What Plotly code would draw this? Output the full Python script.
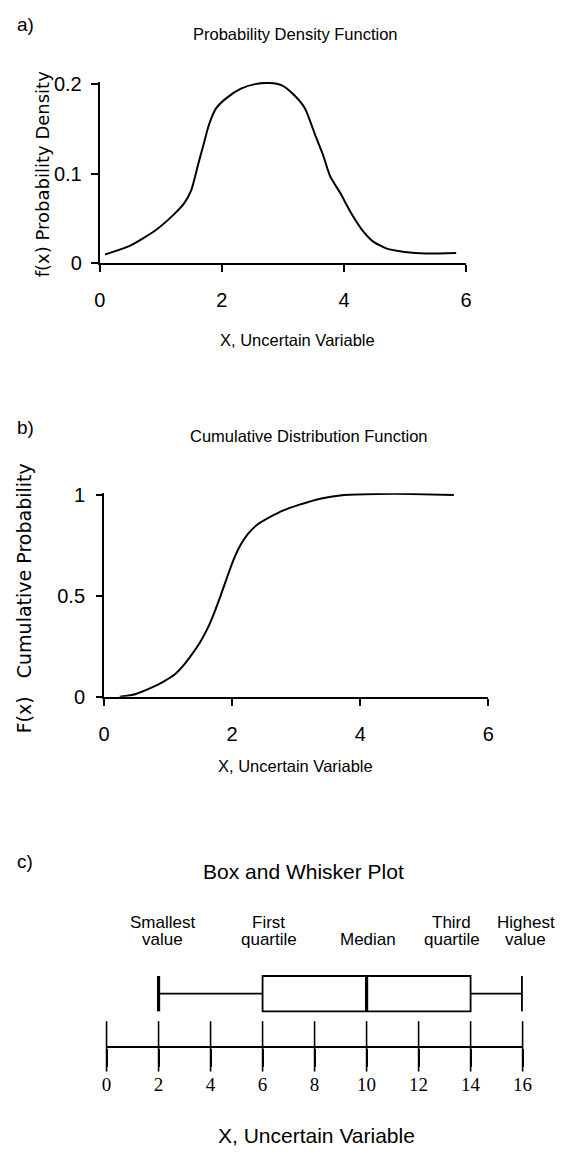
import plotly.graph_objects as go

# ---------------- data ----------------
pdf_x = [0.087, 0.507, 0.914, 1.206, 1.38, 1.497, 1.613, 1.70, 1.788, 1.904, 2.079, 2.312, 2.545, 2.778, 2.982,
         3.186, 3.36, 3.535, 3.652, 3.768, 3.943, 4.118, 4.292, 4.467, 4.70, 4.99, 5.34, 5.836]
pdf_y = [0.0099, 0.0201, 0.0369, 0.054, 0.0668, 0.0814, 0.1106, 0.1325, 0.1544, 0.1726, 0.1843, 0.1945, 0.1996,
         0.2008, 0.1982, 0.1872, 0.1726, 0.1416, 0.1215, 0.0978, 0.0777, 0.0558, 0.0376, 0.0248, 0.0164, 0.0128,
         0.011, 0.0117]

cdf_x = [0.244, 0.497, 0.75, 0.93, 1.107, 1.24, 1.36, 1.49, 1.615, 1.72, 1.819, 1.92, 2.021, 2.13, 2.25, 2.4,
         2.58, 2.8, 3.04, 3.39, 3.75, 4.26, 4.8, 5.46]
cdf_y = [0.0, 0.014, 0.046, 0.075, 0.111, 0.155, 0.205, 0.265, 0.337, 0.415, 0.499, 0.59, 0.677, 0.75, 0.807,
         0.853, 0.887, 0.922, 0.949, 0.981, 0.998, 1.003, 1.003, 0.998]

pdf_yticks = [0, 0.1, 0.2]
pdf_ytext = ["0", "0.1", "0.2"]
pdf_xticks = [0, 2, 4, 6]
cdf_yticks = [0, 0.5, 1]
cdf_ytext = ["0", "0.5", "1"]
cdf_xticks = [0, 2, 4, 6]

box_min, box_q1, box_median, box_q3, box_max = 2, 6, 10, 14, 16
box_ticks = [0, 2, 4, 6, 8, 10, 12, 14, 16]
label_line1 = ["Smallest", "First", "", "Third", "Highest"]
label_line2 = ["value", "quartile", "Median", "quartile", "value"]
label_values = [box_min, box_q1, box_median, box_q3, box_max]

# ---------------- layout helpers ----------------
# the page body keeps its default 8px margin, so the figure is sized to fill the window exactly
OFF = 8
W, H = 571 - 2 * OFF, 1156 - 2 * OFF
def px_x(p):
    return (p - OFF) / W
def px_y(p):
    return 1 - (p - OFF) / H

SANS = "Liberation Sans, Arial, sans-serif"
WIDE = "DejaVu Sans, Verdana, sans-serif"
SERIF = "Liberation Serif, Times New Roman, serif"

fig = go.Figure()

# panel a
fig.add_trace(go.Scatter(x=pdf_x, y=pdf_y, mode="lines",
                         line=dict(color="black", width=2, shape="spline", smoothing=0.6),
                         xaxis="x", yaxis="y", showlegend=False, hoverinfo="skip"))
# panel b
fig.add_trace(go.Scatter(x=cdf_x, y=cdf_y, mode="lines",
                         line=dict(color="black", width=2, shape="spline", smoothing=0.6),
                         xaxis="x2", yaxis="y2", showlegend=False, hoverinfo="skip"))

# panel c geometry (in y3 units)
c_bottom, c_top = 1055.7, 960.0
c_center = (c_bottom - 1002.0) / (c_bottom - c_top)
c_half = 18.0 / (c_bottom - c_top)
tick_len = 18

fig.add_trace(go.Box(q1=[box_q1], median=[box_median], q3=[box_q3], lowerfence=[box_min], upperfence=[box_max],
                     y=[c_center], orientation="h", width=2 * c_half, whiskerwidth=1,
                     line=dict(color="black", width=1.8), fillcolor="white", boxpoints=False,
                     xaxis="x3", yaxis="y3", showlegend=False, hoverinfo="skip"))
# thicker median and whisker caps
for v in [box_min, box_median, box_max]:
    fig.add_trace(go.Scatter(x=[v, v], y=[c_center - c_half, c_center + c_half], mode="lines",
                             line=dict(color="black", width=3.2), xaxis="x3", yaxis="y3",
                             showlegend=False, hoverinfo="skip"))
# number-line ticks crossing the axis line (both sides)
fig.add_trace(go.Scatter(x=box_ticks, y=[0] * len(box_ticks), mode="markers", cliponaxis=False,
                         marker=dict(symbol="line-ns", size=2 * tick_len, color="black",
                                     line=dict(width=1.6, color="black")),
                         xaxis="x3", yaxis="y3", showlegend=False, hoverinfo="skip"))

axis_common = dict(showgrid=False, zeroline=False, showline=True, linecolor="black", linewidth=2,
                   ticks="outside", tickcolor="black", tickwidth=2, fixedrange=True)
TICKFONT = dict(family=SANS, size=20, color="black")

# panel a axes
xa0, xa6 = 96.3, 473.6
ya0, ya_unit = 258.0, 915.0
ya_top = 0.202
fig.update_layout(
    xaxis=dict(**axis_common, domain=[px_x(xa0), px_x(xa6)], range=[0, 6], tickvals=pdf_xticks,
               ticklen=7, tickfont=TICKFONT, anchor="y", ticklabelstandoff=11),
    yaxis=dict(**axis_common, domain=[px_y(ya0), px_y(ya0 - ya_top * ya_unit)], range=[0, ya_top],
               tickvals=pdf_yticks, ticktext=pdf_ytext, ticklen=7, tickfont=TICKFONT, anchor="x",
               ticklabelstandoff=5),
)

# panel b axes
xb0, xb6 = 100.7, 496.5
yb0, yb_unit = 699.5, 206.0
yb_top = 1.006
fig.update_layout(
    xaxis2=dict(**axis_common, domain=[px_x(xb0), px_x(xb6)], range=[0, 6], tickvals=cdf_xticks,
                ticklen=7, tickfont=TICKFONT, anchor="y2", ticklabelstandoff=11),
    yaxis2=dict(**axis_common, domain=[px_y(yb0), px_y(yb0 - yb_top * yb_unit)], range=[0, yb_top],
                tickvals=cdf_yticks, ticktext=cdf_ytext, ticklen=6, tickfont=TICKFONT, anchor="x2",
                ticklabelstandoff=7),
)

# panel c axes
xc0, xc16 = 103.3, 531.7
fig.update_layout(
    xaxis3=dict(showgrid=False, zeroline=False, showline=True, linecolor="black", linewidth=2.2,
                ticks="outside", tickcolor="black", tickwidth=1.6, ticklen=tick_len,
                domain=[px_x(xc0), px_x(xc16)], range=[0, 16], tickvals=box_ticks,
                tickfont=dict(family=SERIF, size=19, color="black"), anchor="y3",
                ticklabelstandoff=2, fixedrange=True),
    yaxis3=dict(domain=[px_y(c_bottom), px_y(c_top)], range=[0, 1], visible=False, fixedrange=True,
                anchor="x3"),
)

ann = []
def text(x_px, y_px, s, family, size, xanchor="center", angle=0):
    ann.append(dict(x=px_x(x_px), y=px_y(y_px), xref="paper", yref="paper", text=s, showarrow=False,
                    xanchor=xanchor, yanchor="middle", textangle=angle,
                    font=dict(family=family, size=size, color="black")))

# panel labels
text(9, 15, "a)", SANS, 19, xanchor="left")
text(9, 425, "b)", SANS, 19, xanchor="left")
text(9, 867, "c)", SANS, 19, xanchor="left")

# titles
text(298, 24, "Probability Density Function", SANS, 16.5)
text(312, 434, "Cumulative Distribution Function", SANS, 16.5)
text(306, 878, "Box and Whisker Plot", SANS, 21)

# axis titles
text(300, 336, "X, Uncertain Variable", SANS, 16.5)
text(298, 770, "X, Uncertain Variable", SANS, 16.5)
text(319, 1146, "X, Uncertain Variable", SANS, 21)
text(37, 167, "f(x) Probability Density", WIDE, 18, angle=-90)
text(18.5, 599, "F(x)\u00a0\u00a0\u00a0Cumulative Probability", WIDE, 19, angle=-90)

fig.update_layout(annotations=ann)

# box plot labels (positioned at their values on the x3 axis)
label_shift = [4, 6, 1, -19, 3]
for v, l1, l2, dx in zip(label_values, label_line1, label_line2, label_shift):
    if l1:
        fig.add_annotation(x=v, y=px_y(929), xref="x3", yref="paper", text=l1, showarrow=False,
                           xshift=dx, yanchor="middle", font=dict(family=SANS, size=17, color="black"))
    fig.add_annotation(x=v, y=px_y(947), xref="x3", yref="paper", text=l2, showarrow=False,
                       xshift=dx, yanchor="middle", font=dict(family=SANS, size=17, color="black"))

fig.update_layout(width=W, height=H, margin=dict(l=0, r=0, t=0, b=0),
                  paper_bgcolor="white", plot_bgcolor="white", showlegend=False)

fig.write_html("out.html", config={"displayModeBar": False})
